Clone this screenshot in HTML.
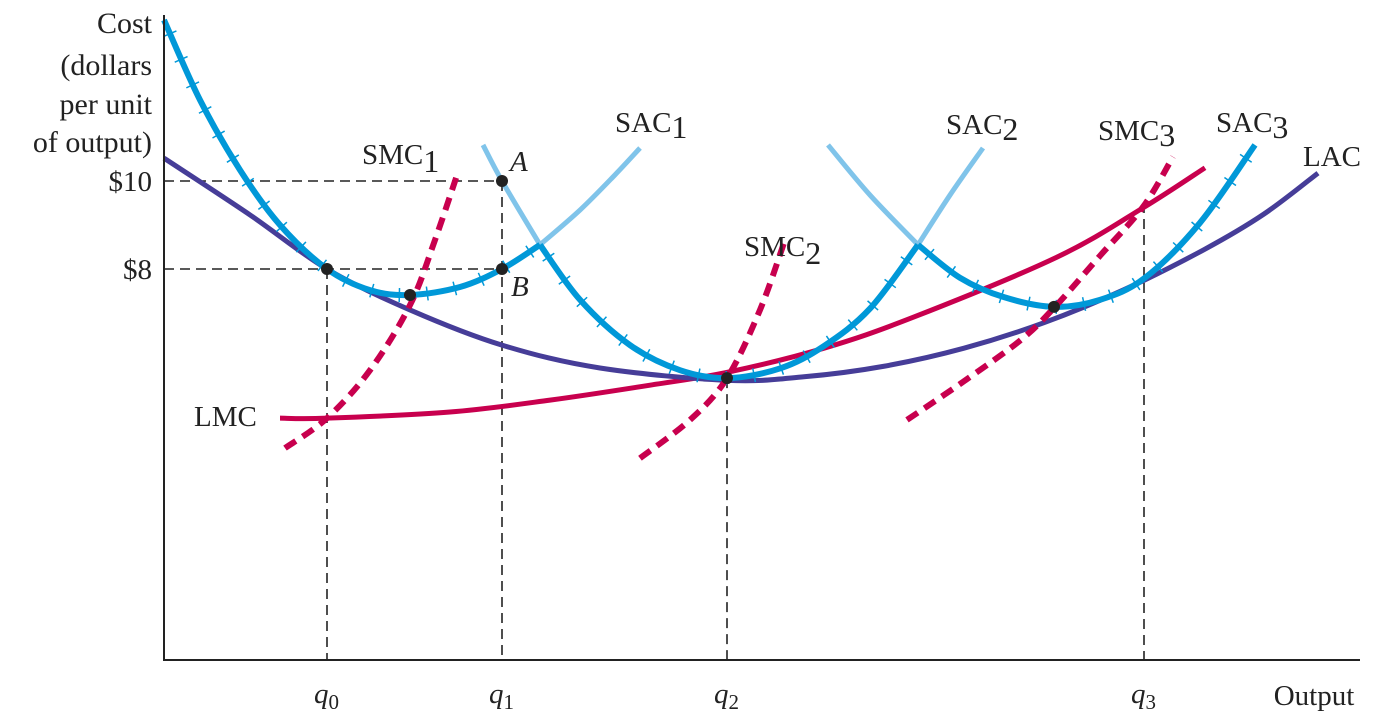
<!DOCTYPE html>
<html><head><meta charset="utf-8">
<style>
html,body{margin:0;padding:0;background:#fff;}
svg{display:block;}
text{font-family:"Liberation Serif",serif;fill:#222;}
</style></head>
<body>
<svg id="chart" width="1382" height="725" viewBox="0 0 1382 725" xmlns="http://www.w3.org/2000/svg">
<g id="guides"></g>
<g id="curves"></g>
<g id="dots"></g>
<line x1="164" y1="15" x2="164" y2="660" stroke="#222" stroke-width="2"/>
<line x1="163" y1="660" x2="1360" y2="660" stroke="#222" stroke-width="2"/>
<g font-size="30" text-anchor="end">
<text x="152" y="33">Cost</text><text x="152" y="75">(dollars</text>
<text x="152" y="114">per unit</text><text x="152" y="152">of output)</text></g>
<text x="152" y="191" font-size="29" text-anchor="end">$10</text>
<text x="152" y="279" font-size="29" text-anchor="end">$8</text>
<text x="1314" y="705" font-size="29" text-anchor="middle">Output</text>
<g id="qlabels" font-size="29" font-style="italic"></g>
<g font-size="29">
<text x="362" y="164">SMC<tspan font-size="32" dy="8">1</tspan></text>
<text x="615" y="132">SAC<tspan font-size="32" dy="6">1</tspan></text>
<text x="946" y="134">SAC<tspan font-size="32" dy="6">2</tspan></text>
<text x="1098" y="140">SMC<tspan font-size="32" dy="6">3</tspan></text>
<text x="1216" y="132">SAC<tspan font-size="32" dy="6">3</tspan></text>
<text x="1303" y="166">LAC</text>
<text x="744" y="256">SMC<tspan font-size="32" dy="8">2</tspan></text>
<text x="194" y="426">LMC</text>
<text x="510" y="171" font-style="italic">A</text>
<text x="511" y="296" font-style="italic">B</text>
</g>
</svg>
<script>
// data: [output, cost]
const sac1Dark=[[0,13.66],[3.6,11.84],[7.6,10.25],[11.6,9.0],[16.3,8.0],[20.6,7.52],[24.6,7.41],[29.6,7.59],[33.8,8.0],[37.6,8.55]];
const sac1Light=[[37.6,8.55],[41.6,9.34],[45.1,10.14],[47.6,10.75]];
const sac2LightL=[[31.9,10.82],[33.8,10.0],[37.6,8.55]];
const sac2Dark=[[37.6,8.55],[41.6,7.30],[46.6,6.27],[51.6,5.70],[56.3,5.52],[61.6,5.74],[66.0,6.25],[70.6,7.1],[75.4,8.55]];
const sac2LightR=[[75.4,8.55],[78.6,9.68],[81.9,10.75]];
const sac3LightL=[[66.4,10.82],[70.6,9.68],[75.4,8.55]];
const sac3Dark=[[75.4,8.55],[79.6,7.8],[84.0,7.36],[89.0,7.14],[93.6,7.3],[98.1,7.8],[103.6,9.05],[109.1,10.82]];
const lac=[[0,10.52],[8.6,9.23],[16.3,8.0],[24.6,7.07],[33.8,6.27],[43.6,5.75],[56.3,5.47],[64,5.55],[72,5.79],[80,6.2],[88,6.78],[96,7.53],[104,8.44],[110,9.25],[115.4,10.18]];
const lmc=[[11.6,4.61],[16.3,4.61],[28.6,4.75],[38.6,5.02],[48.6,5.36],[56.5,5.66],[66.0,6.2],[75.0,6.91],[89.3,8.27],[97.9,9.39],[104.1,10.3]];
const smc1=[[12.1,3.93],[16.3,4.61],[20.6,5.70],[24.6,7.18],[27.1,8.66],[29.4,10.2]];
const smc2=[[47.6,3.70],[52.6,4.57],[56.3,5.52],[59.6,7.07],[62.1,8.66]];
const smc3=[[74.3,4.57],[80.0,5.45],[85.7,6.39],[89.1,7.14],[93.6,8.3],[97.9,9.41],[100.9,10.55]];
const points=[[16.3,8.0],[24.6,7.41],[33.8,8.0],[33.8,10.0],[56.3,5.52],[89.0,7.14]];
const qValues=[16.3,33.8,56.3,98.0];
const qNames=["0","1","2","3"];
const qTops=[8.0,10.0,5.52,9.5];
const priceTicks=[10,8];
const priceEnds=[33.8,33.8];

const NS="http://www.w3.org/2000/svg";
const xS=q=>164+q*10;
const yS=c=>621-c*44;
function pathD(pts){
  const p=pts.map(d=>[xS(d[0]),yS(d[1])]);
  let d="M"+p[0][0]+","+p[0][1];
  for(let i=0;i<p.length-1;i++){
    const p0=p[i-1]||p[i],p1=p[i],p2=p[i+1],p3=p[i+2]||p2;
    const c1=[p1[0]+(p2[0]-p0[0])/6,p1[1]+(p2[1]-p0[1])/6];
    const c2=[p2[0]-(p3[0]-p1[0])/6,p2[1]-(p3[1]-p1[1])/6];
    d+=" C"+c1[0]+","+c1[1]+" "+c2[0]+","+c2[1]+" "+p2[0]+","+p2[1];
  }
  return d;
}
const curves=document.getElementById("curves");
function draw(pts,name,color,w,dash,ticks){
  const el=document.createElementNS(NS,"path");
  el.setAttribute("d",pathD(pts));
  el.setAttribute("fill","none");el.setAttribute("stroke",color);
  el.setAttribute("stroke-width",w);
  if(dash)el.setAttribute("stroke-dasharray",dash);
  
  
  curves.appendChild(el);
  if(ticks){
    const L=el.getTotalLength();
    for(let s=15;s<L-5;s+=28){
      const a=el.getPointAtLength(s),b=el.getPointAtLength(s+1);
      let dx=b.x-a.x,dy=b.y-a.y;const n=Math.hypot(dx,dy)||1;dx/=n;dy/=n;
      const t=document.createElementNS(NS,"line");
      t.setAttribute("x1",a.x-dy*7);t.setAttribute("y1",a.y+dx*7);
      t.setAttribute("x2",a.x+dy*7);t.setAttribute("y2",a.y-dx*7);
      t.setAttribute("stroke",color);t.setAttribute("stroke-width","1.5");
      
      
      curves.appendChild(t);
    }
  }
}
const light="#80c4ea",blue="#0098d8",purple="#463d98",red="#c8004e";
draw(sac1Light,"sac1-light",light,5);
draw(sac2LightL,"sac2-light-left",light,5);
draw(sac2LightR,"sac2-light-right",light,5);
draw(sac3LightL,"sac3-light-left",light,5);
draw(lmc,"lmc-curve",red,5);
draw(lac,"lac-curve",purple,5);
draw(sac1Dark,"sac1-envelope",blue,6,null,true);
draw(sac2Dark,"sac2-envelope",blue,6,null,true);
draw(sac3Dark,"sac3-envelope",blue,6,null,true);
draw(smc1,"smc1-curve",red,6,"13,8");
draw(smc2,"smc2-curve",red,6,"13,8");
draw(smc3,"smc3-curve",red,6,"13,8");

const guides=document.getElementById("guides");
function gl(x1,y1,x2,y2,name){
  const l=document.createElementNS(NS,"line");
  l.setAttribute("x1",x1);l.setAttribute("y1",y1);l.setAttribute("x2",x2);l.setAttribute("y2",y2);
  l.setAttribute("stroke","#222");l.setAttribute("stroke-width","1.6");l.setAttribute("stroke-dasharray","10,6");
  
  
  guides.appendChild(l);
}
priceTicks.forEach((p,i)=>gl(xS(0),yS(p),xS(priceEnds[i]),yS(p),"price-guide-"+p));
qValues.forEach((q,i)=>gl(xS(q),yS(qTops[i]),xS(q),660,"q"+qNames[i]+"-guide"));
const ql=document.getElementById("qlabels");
qValues.forEach((q,i)=>{
  const t=document.createElementNS(NS,"text");
  t.setAttribute("x",xS(q)-13);t.setAttribute("y",703);
  t.innerHTML='q<tspan font-style="normal" font-size="21" dy="6">'+qNames[i]+'</tspan>';
  
  
  ql.appendChild(t);
});
const dots=document.getElementById("dots");
points.forEach((p,i)=>{
  const c=document.createElementNS(NS,"circle");
  c.setAttribute("cx",xS(p[0]));c.setAttribute("cy",yS(p[1]));c.setAttribute("r",6);
  c.setAttribute("fill","#222");
  
  
  dots.appendChild(c);
});
</script>
</body></html>
